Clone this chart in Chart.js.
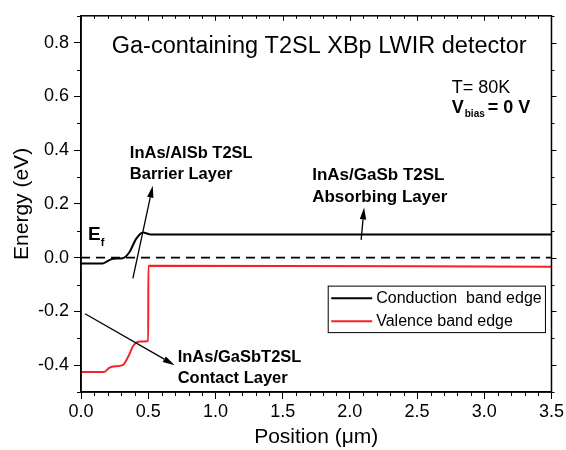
<!DOCTYPE html>
<html>
<head>
<meta charset="utf-8">
<script src="https://cdn.jsdelivr.net/npm/chart.js@4/dist/chart.umd.min.js"></script>
<style>
    html, body { margin: 0; padding: 0; background: #fff; }
    #wrap { width: 566px; height: 450px; }
</style>
</head>
<body>
<div id="wrap"><canvas id="bandChart" width="566" height="450"></canvas></div>
<script>
"use strict";

// values (position in µm, energy in eV)
const conductionPos = [0, 0.16, 0.2, 0.24, 0.31, 0.36, 0.41, 0.46, 0.52, 3.5];
const conductionEnergy = [-0.022, -0.022, -0.012, -0.004, -0.002, 0.02, 0.07, 0.094, 0.086, 0.086];

const valencePos = [0, 0.17, 0.21, 0.24, 0.31, 0.35, 0.39, 0.44, 0.5, 0.501, 3.5];
const valenceEnergy = [-0.426, -0.426, -0.41, -0.405, -0.4, -0.37, -0.327, -0.312, -0.31, -0.03, -0.034];

const fermiPos = [0, 3.5];
const fermiEnergy = [0, 0];

const seriesLabels = ["Conduction  band edge", "Valence band edge"];
const xTickValues = [0, 0.5, 1, 1.5, 2, 2.5, 3, 3.5];
const yTickValues = [-0.4, -0.2, 0, 0.2, 0.4, 0.6, 0.8];

const FONT = "'Liberation Sans', Arial, sans-serif";
const RED = "#f5222a";

function toPoints(xs, ys) {
    return xs.map((x, i) => ({x: x, y: ys[i]}));
}

// arrows: [fromX, fromY, toX, toY] in data units
const arrows = [
    [0.386, -0.077, 0.534, 0.268],
    [0.03, -0.209, 0.697, -0.4],
    [2.084, 0.066, 2.106, 0.187]
];

const notes = [
    {text: "Ga-containing T2SL XBp LWIR detector", x: 1.772, y: 0.785, font: "23.5px " + FONT, align: "center"},
    {text: "T= 80K", x: 2.758, y: 0.631, font: "18px " + FONT, align: "left"},
    {text: "InAs/AlSb T2SL", x: 0.363, y: 0.389, font: "bold 16.5px " + FONT, align: "left"},
    {text: "Barrier Layer", x: 0.363, y: 0.308, font: "bold 16.5px " + FONT, align: "left"},
    {text: "InAs/GaSb T2SL", x: 1.72, y: 0.305, font: "bold 17px " + FONT, align: "left"},
    {text: "Absorbing Layer", x: 1.72, y: 0.224, font: "bold 17px " + FONT, align: "left"},
    {text: "InAs/GaSbT2SL", x: 0.719, y: -0.371, font: "bold 16.5px " + FONT, align: "left"},
    {text: "Contact Layer", x: 0.719, y: -0.451, font: "bold 16.5px " + FONT, align: "left"}
];

const annotationPlugin = {
    id: "annotations",
    afterDatasetsDraw(chart) {
        const ctx = chart.ctx;
        const xs = chart.scales.x;
        const ys = chart.scales.y;
        const px = (v) => xs.getPixelForValue(v);
        const py = (v) => ys.getPixelForValue(v);

        ctx.save();
        ctx.fillStyle = "#000";
        ctx.strokeStyle = "#000";
        ctx.textBaseline = "middle";

        notes.forEach((n) => {
            ctx.font = n.font;
            ctx.textAlign = n.align;
            ctx.fillText(n.text, px(n.x), py(n.y));
        });

        // V_bias = 0 V
        ctx.textAlign = "left";
        let vx = px(2.758);
        let vy = py(0.558);
        ctx.font = "bold 18px " + FONT;
        ctx.fillText("V", vx, vy);
        vx += ctx.measureText("V").width + 1;
        ctx.font = "bold 10px " + FONT;
        ctx.fillText("bias", vx, vy + 7);
        vx += ctx.measureText("bias").width + 3;
        ctx.font = "bold 18px " + FONT;
        ctx.fillText("= 0 V", vx, vy);

        // E_f
        let ex = px(0.052);
        let ey = py(0.084);
        ctx.font = "bold 19px " + FONT;
        ctx.fillText("E", ex, ey);
        ex += ctx.measureText("E").width;
        ctx.font = "bold 11px " + FONT;
        ctx.fillText("f", ex, ey + 8);

        // arrows
        ctx.lineWidth = 1.3;
        arrows.forEach((a) => {
            const x1 = px(a[0]), y1 = py(a[1]), x2 = px(a[2]), y2 = py(a[3]);
            const ang = Math.atan2(y2 - y1, x2 - x1);
            const len = 12, half = 3.2;
            const bx = x2 - len * Math.cos(ang), by = y2 - len * Math.sin(ang);
            ctx.beginPath();
            ctx.moveTo(x1, y1);
            ctx.lineTo(bx, by);
            ctx.stroke();
            ctx.beginPath();
            ctx.moveTo(x2, y2);
            ctx.lineTo(bx + half * Math.sin(ang), by - half * Math.cos(ang));
            ctx.lineTo(bx - half * Math.sin(ang), by + half * Math.cos(ang));
            ctx.closePath();
            ctx.fill();
        });

        // legend box
        const lx1 = px(1.839), lx2 = px(3.455), ly1 = py(-0.106), ly2 = py(-0.279);
        ctx.fillStyle = "#fff";
        ctx.fillRect(lx1, ly1, lx2 - lx1, ly2 - ly1);
        ctx.lineWidth = 1;
        ctx.strokeStyle = "#000";
        ctx.strokeRect(lx1, ly1, lx2 - lx1, ly2 - ly1);
        ctx.font = "16px " + FONT;
        ctx.textAlign = "left";
        const colors = [chart.data.datasets[0].borderColor, chart.data.datasets[1].borderColor];
        seriesLabels.forEach((lab, i) => {
            const rowY = ly1 + 12 + i * 23;
            ctx.strokeStyle = colors[i];
            ctx.lineWidth = 2;
            ctx.beginPath();
            ctx.moveTo(lx1 + 3, rowY);
            ctx.lineTo(lx1 + 44, rowY);
            ctx.stroke();
            ctx.fillStyle = "#000";
            ctx.fillText(lab, lx1 + 48, rowY);
        });

        ctx.restore();
    },
    afterDraw(chart) {
        // frame plus minor ticks and mirrored ticks on top/right
        const ctx = chart.ctx;
        const xs = chart.scales.x;
        const ys = chart.scales.y;
        const a = chart.chartArea;
        ctx.save();
        ctx.strokeStyle = "#000";
        ctx.lineWidth = 1.5;
        ctx.strokeRect(a.left, a.top, a.right - a.left, a.bottom - a.top);
        ctx.lineWidth = 1;
        ctx.beginPath();
        for (let i = 0; i <= 35; i++) {
            const x = Math.round(xs.getPixelForValue(i / 10)) + 0.5;
            const major = i % 5 === 0;
            if (!major) {
                ctx.moveTo(x, a.bottom);
                ctx.lineTo(x, a.bottom + 4);
            }
            ctx.moveTo(x, a.top);
            ctx.lineTo(x, a.top + (major ? 5 : 3));
        }
        for (let i = -5; i <= 9; i++) {
            const y = Math.round(ys.getPixelForValue(i / 10)) + 0.5;
            const major = i % 2 === 0;
            if (!major) {
                ctx.moveTo(a.left - 4, y);
                ctx.lineTo(a.left, y);
            }
            ctx.moveTo(a.right, y);
            ctx.lineTo(a.right + (major ? 5 : 3), y);
        }
        ctx.stroke();
        ctx.restore();
    }
};

const ctx = document.getElementById("bandChart");

new Chart(ctx, {
    type: "line",
    data: {
        datasets: [
            {
                label: seriesLabels[0],
                data: toPoints(conductionPos, conductionEnergy),
                borderColor: "#000",
                borderWidth: 2,
                pointRadius: 0,
                cubicInterpolationMode: "monotone"
            },
            {
                label: seriesLabels[1],
                data: toPoints(valencePos, valenceEnergy),
                borderColor: RED,
                borderWidth: 2,
                pointRadius: 0,
                cubicInterpolationMode: "monotone"
            },
            {
                label: "Ef",
                data: toPoints(fermiPos, fermiEnergy),
                borderColor: "#000",
                borderWidth: 1.6,
                borderDash: [9, 6],
                pointRadius: 0
            }
        ]
    },
    options: {
        responsive: false,
        animation: false,
        layout: {padding: {top: 10, right: 13, left: 0, bottom: 0}},
        plugins: {
            legend: {display: false},
            tooltip: {enabled: false}
        },
        scales: {
            x: {
                type: "linear",
                min: 0,
                max: 3.5,
                afterBuildTicks: (scale) => {
                    scale.ticks = xTickValues.map((v) => ({value: v}));
                },
                afterFit: (scale) => {
                    scale.height = 58;
                },
                ticks: {
                    color: "#000",
                    font: {family: FONT, size: 18},
                    padding: 2,
                    maxRotation: 0,
                    callback: (v) => Number(v).toFixed(1)
                },
                grid: {drawOnChartArea: false, tickLength: 7, color: "#000"},
                border: {color: "#000", width: 1.5},
                title: {
                    display: true,
                    text: "Position (μm)",
                    color: "#000",
                    font: {family: FONT, size: 21},
                    padding: {top: 0, bottom: 0}
                }
            },
            y: {
                type: "linear",
                min: -0.5,
                max: 0.9,
                afterBuildTicks: (scale) => {
                    scale.ticks = yTickValues.map((v) => ({value: v}));
                },
                afterFit: (scale) => {
                    scale.width = 81;
                },
                ticks: {
                    color: "#000",
                    font: {family: FONT, size: 18},
                    padding: 5,
                    callback: (v) => Number(v).toFixed(1)
                },
                grid: {drawOnChartArea: false, tickLength: 7, color: "#000"},
                border: {color: "#000", width: 1.5},
                title: {
                    display: true,
                    text: "Energy (eV)",
                    color: "#000",
                    font: {family: FONT, size: 21},
                    padding: {top: 10, bottom: 0}
                }
            }
        }
    },
    plugins: [annotationPlugin]
});
</script>
</body>
</html>
